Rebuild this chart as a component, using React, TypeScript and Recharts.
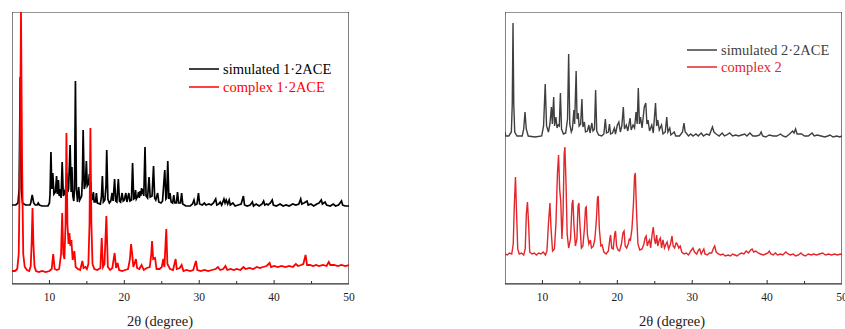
import React from 'react';
import { LineChart, Line, XAxis, YAxis, ReferenceArea, Legend } from 'recharts';

// 2θ axis ticks (major every 10°, minor every 5°)
const X_TICKS = [5, 10, 15, 20, 25, 30, 35, 40, 45, 50];

const LEGEND_LEFT = ['simulated 1·2ACE', 'complex 1·2ACE'];
const LEGEND_RIGHT = ['simulated 2·2ACE', 'complex 2'];
const X_TITLE = '2θ (degree)';

// [2θ, intensity (offset, arbitrary units)]
const sim1: [number, number][] = [
  [5.0,79],[5.5,79],[5.8,81],[5.95,95],[6.1,207],[6.25,95],[6.4,81],[6.8,79],[7.4,79],[7.5,81],[7.7,89],[7.9,81],[8.1,79],[8.35,79],[8.5,81],[8.65,79],[9.0,78],[9.8,78],[10.0,81],[10.08,90],[10.2,132],[10.32,95],[10.45,111],[10.6,90],[10.8,92],[10.95,108],[11.05,90],[11.2,104],[11.3,88],[11.45,95],[11.55,86],[11.7,122],[11.85,88],[12.0,94],[12.1,89],[12.3,111],[12.45,92],[12.55,95],[12.76,139],[12.9,92],[13.0,117],[13.12,88],[13.25,83],[13.35,95],[13.47,203],[13.6,95],[13.75,82],[13.9,97],[14.05,84],[14.3,88],[14.4,105],[14.5,154],[14.65,95],[14.8,100],[14.93,123],[15.05,98],[15.2,100],[15.33,110],[15.42,100],[15.5,102],[15.6,88],[15.75,84],[15.87,92],[15.97,82],[16.15,82],[16.27,91],[16.4,81],[16.8,80],[16.95,88],[17.07,108],[17.2,82],[17.4,84],[17.55,98],[17.65,134],[17.8,85],[18.0,81],[18.2,83],[18.36,91],[18.5,83],[18.7,105],[18.85,83],[19.0,82],[19.2,105],[19.35,83],[19.5,82],[19.7,91],[19.85,83],[20.0,84],[20.2,91],[20.35,82],[20.6,91],[20.75,83],[20.95,84],[21.1,121],[21.25,85],[21.4,86],[21.5,94],[21.6,85],[21.8,88],[21.9,92],[22.0,86],[22.1,93],[22.2,88],[22.3,96],[22.4,90],[22.5,95],[22.6,88],[22.76,137],[22.9,88],[23.1,86],[23.3,107],[23.45,87],[23.7,88],[23.9,118],[24.05,86],[24.2,84],[24.45,91],[24.6,82],[24.9,81],[25.1,83],[25.4,114],[25.55,85],[25.65,86],[25.8,123],[25.95,85],[26.1,91],[26.25,82],[26.45,81],[26.6,89],[26.75,81],[26.95,81],[27.1,92],[27.25,81],[27.5,81],[27.65,91],[27.8,80],[28.2,78],[28.8,78],[29.1,80],[29.3,84],[29.45,79],[29.7,80],[29.9,91],[30.05,80],[30.4,79],[30.7,81],[30.9,79],[31.3,80],[31.6,79],[31.9,81],[32.2,85],[32.35,79],[32.6,80],[32.8,82],[33.0,79],[33.3,85],[33.45,81],[33.6,84],[33.8,80],[34.0,84],[34.15,79],[34.5,81],[34.8,78],[35.2,79],[35.6,80],[35.9,88],[36.05,79],[36.4,78],[36.8,79],[37.1,82],[37.25,78],[37.6,80],[38.0,78],[38.4,80],[38.6,83],[38.75,79],[39.0,80],[39.2,79],[39.5,81],[39.75,84],[39.9,79],[40.3,78],[40.8,80],[41.2,78],[41.6,79],[42.0,78],[42.5,80],[42.9,79],[43.3,80],[43.55,85],[43.7,80],[44.0,81],[44.4,83],[44.55,79],[44.9,80],[45.3,78],[45.7,80],[46.0,81],[46.3,84],[46.45,80],[46.8,82],[47.0,79],[47.5,78],[47.9,80],[48.2,78],[48.6,79],[49.0,83],[49.15,79],[49.5,78],[50,78]
];

const complex1: [number, number][] = [
  [5.0,13],[5.4,13],[5.7,15],[5.9,30],[6.05,120],[6.2,272],[6.35,120],[6.5,30],[6.7,17],[7.0,14],[7.3,13],[7.5,18],[7.62,40],[7.74,76],[7.86,40],[8.0,18],[8.2,13],[8.6,12],[9.0,13],[9.5,12],[10.0,13],[10.3,15],[10.5,30],[10.7,15],[11.0,14],[11.3,15],[11.55,30],[11.7,71],[11.85,30],[12.0,25],[12.15,60],[12.27,151],[12.4,60],[12.55,40],[12.67,51],[12.8,38],[12.93,44],[13.1,24],[13.33,33],[13.5,17],[13.8,15],[14.1,14],[14.4,23],[14.55,16],[14.8,17],[15.0,15],[15.2,20],[15.35,60],[15.47,156],[15.6,60],[15.75,20],[16.0,15],[16.4,14],[16.8,16],[16.98,46],[17.15,17],[17.35,20],[17.6,68],[17.8,17],[18.1,14],[18.4,16],[18.7,31],[18.9,16],[19.1,21],[19.3,14],[19.7,13],[20.1,14],[20.5,15],[20.75,25],[20.9,40],[21.05,30],[21.2,17],[21.55,25],[21.7,16],[22.0,15],[22.3,19],[22.6,14],[23.0,16],[23.4,17],[23.6,30],[23.7,43],[23.85,25],[24.1,26],[24.3,15],[24.7,15],[25.0,17],[25.2,25],[25.35,17],[25.6,55],[25.75,20],[26.1,15],[26.5,14],[26.85,25],[27.0,15],[27.4,16],[27.65,19],[27.9,13],[28.3,14],[28.8,13],[29.2,14],[29.56,23],[29.75,14],[30.2,13],[30.7,14],[31.2,13],[31.7,14],[32.2,15],[32.5,17],[32.8,14],[33.2,15],[33.5,18],[33.75,14],[34.2,15],[34.6,14],[35.0,15],[35.5,14],[35.9,17],[36.2,15],[36.7,16],[37.2,15],[37.7,17],[38.1,16],[38.5,17],[39.0,18],[39.4,21],[39.6,17],[40.0,18],[40.5,17],[41.0,18],[41.5,17],[42.0,18],[42.5,17],[42.9,20],[43.2,18],[43.6,19],[43.9,20],[44.2,29],[44.4,19],[44.8,19],[45.2,18],[45.6,19],[46.0,18],[46.5,19],[47.0,18],[47.3,22],[47.5,19],[48.0,19],[48.5,18],[49.0,19],[49.5,18],[50,19]
];

const sim2: [number, number][] = [
  [5.0,152],[5.1,148],[5.5,148],[5.85,152],[5.97,180],[6.07,261],[6.17,180],[6.3,152],[6.6,148],[7.3,148],[7.5,155],[7.67,172],[7.84,155],[8.1,148],[9.0,147],[9.9,148],[10.15,158],[10.37,200],[10.55,158],[10.8,152],[11.0,160],[11.2,177],[11.32,160],[11.5,187],[11.62,158],[11.8,167],[11.95,156],[12.1,159],[12.25,158],[12.4,191],[12.55,155],[12.8,150],[13.1,151],[13.35,165],[13.5,230],[13.65,160],[13.85,152],[14.0,155],[14.2,174],[14.3,160],[14.5,213],[14.62,165],[14.77,171],[14.9,158],[15.1,160],[15.27,185],[15.4,157],[15.6,162],[15.75,152],[16.0,153],[16.2,159],[16.35,151],[16.6,161],[16.75,153],[16.95,155],[17.1,194],[17.25,153],[17.5,149],[17.9,148],[18.2,150],[18.4,165],[18.55,151],[18.8,152],[18.95,160],[19.1,150],[19.35,151],[19.6,156],[19.75,150],[20.0,159],[20.2,162],[20.4,152],[20.6,158],[20.8,177],[20.95,155],[21.2,159],[21.4,153],[21.7,166],[21.85,154],[22.1,159],[22.3,156],[22.5,172],[22.65,160],[22.8,196],[22.95,160],[23.1,167],[23.3,156],[23.6,177],[23.8,181],[23.95,160],[24.1,164],[24.3,153],[24.6,159],[24.8,151],[25.1,181],[25.25,158],[25.4,164],[25.6,154],[25.9,159],[26.1,150],[26.4,152],[26.6,167],[26.75,152],[27.0,156],[27.15,149],[27.6,152],[27.8,148],[28.3,148],[28.7,152],[28.9,161],[29.05,152],[29.2,151],[29.5,148],[29.8,150],[30.1,148],[30.5,150],[30.8,148],[31.2,151],[31.5,148],[31.9,150],[32.3,149],[32.7,157],[32.9,152],[33.2,150],[33.6,148],[34.0,151],[34.3,148],[34.6,149],[35.0,151],[35.4,148],[35.8,149],[36.2,148],[36.6,149],[37.0,150],[37.3,148],[37.7,151],[38.1,148],[38.6,148],[39.0,149],[39.2,152],[39.4,148],[39.8,147],[40.3,149],[40.8,148],[41.3,148],[41.8,150],[42.1,148],[42.5,147],[43.0,150],[43.4,153],[43.6,151],[43.8,155],[44.0,150],[44.6,150],[45.0,148],[45.5,148],[46.0,151],[46.3,148],[46.7,149],[47.2,148],[47.7,147],[48.1,148],[48.4,149],[48.8,147],[49.3,148],[49.7,147],[50,148]
];

const complex2: [number, number][] = [
  [5.0,30],[5.3,29],[5.6,31],[5.9,30],[6.1,40],[6.25,80],[6.4,107],[6.55,70],[6.7,35],[6.9,30],[7.2,31],[7.5,29],[7.7,35],[7.85,70],[8.0,82],[8.15,60],[8.3,32],[8.6,30],[8.9,31],[9.2,29],[9.5,31],[9.8,30],[10.1,32],[10.4,29],[10.6,33],[10.8,60],[11.0,81],[11.15,55],[11.35,33],[11.6,35],[11.8,60],[12.0,110],[12.15,129],[12.3,95],[12.45,82],[12.6,45],[12.75,70],[12.9,130],[13.0,137],[13.15,100],[13.3,50],[13.5,36],[13.75,45],[13.95,80],[14.07,84],[14.2,60],[14.4,38],[14.6,45],[14.75,78],[14.87,81],[15.0,60],[15.2,36],[15.4,38],[15.6,55],[15.75,76],[15.85,77],[16.0,50],[16.2,40],[16.4,44],[16.55,36],[16.8,38],[17.0,45],[17.2,64],[17.35,86],[17.45,88],[17.6,55],[17.8,38],[17.97,39],[18.2,32],[18.5,30],[18.8,33],[19.0,45],[19.1,49],[19.25,36],[19.45,35],[19.65,50],[19.76,53],[19.9,38],[20.1,34],[20.3,33],[20.55,40],[20.75,51],[20.9,53],[21.05,38],[21.25,36],[21.45,40],[21.6,45],[21.75,44],[21.95,55],[22.15,80],[22.3,108],[22.4,111],[22.55,75],[22.75,40],[23.0,34],[23.3,35],[23.55,40],[23.7,46],[23.85,48],[24.0,38],[24.15,42],[24.3,44],[24.45,36],[24.65,50],[24.8,57],[24.95,45],[25.1,40],[25.25,49],[25.4,38],[25.6,44],[25.75,46],[25.9,36],[26.1,44],[26.3,36],[26.5,40],[26.65,42],[26.85,35],[27.1,40],[27.3,48],[27.45,38],[27.65,36],[27.85,41],[28.0,40],[28.2,36],[28.4,38],[28.6,32],[28.9,30],[29.2,31],[29.5,29],[29.8,33],[30.1,36],[30.3,32],[30.6,30],[30.85,34],[31.0,35],[31.2,30],[31.4,33],[31.55,35],[31.7,30],[32.0,29],[32.3,31],[32.6,31],[32.85,36],[33.0,38],[33.2,32],[33.5,30],[33.8,29],[34.1,30],[34.4,28],[34.8,29],[35.1,28],[35.4,30],[35.7,29],[36.0,28],[36.3,30],[36.6,31],[36.9,30],[37.2,33],[37.5,31],[37.8,34],[38.0,35],[38.2,32],[38.5,33],[38.8,31],[39.1,30],[39.5,29],[39.8,30],[40.1,31],[40.3,33],[40.5,30],[40.8,29],[41.1,31],[41.4,29],[41.8,30],[42.1,29],[42.5,32],[42.8,30],[43.1,29],[43.5,30],[43.8,28],[44.2,29],[44.5,31],[44.8,29],[45.1,28],[45.5,30],[45.9,29],[46.2,30],[46.6,29],[47.0,30],[47.4,31],[47.8,29],[48.2,30],[48.6,29],[49.0,30],[49.4,29],[49.8,30],[50,29]
];

const toRows = (pts: [number, number][]) => pts.map(([x, y]) => ({ x, y }));

const FONT = '"Liberation Serif", "Times New Roman", serif';
const FRAME = '#2e2e2e';

const AxisTick = (props: any) => {
  const { x, y, payload } = props;
  const v = payload.value;
  const major = v % 10 === 0;
  return (
    <g>
      {v > 5 && v < 50 && (
        <line x1={x} x2={x} y1={y} y2={y - (major ? 4 : 3)} stroke={FRAME} strokeWidth={1} />
      )}
      {major && (
        <text x={x} y={y + 17} textAnchor="middle" fontSize={11.5} fontFamily={FONT} fill="#222">
          {v}
        </text>
      )}
    </g>
  );
};

// overlay holding legend + axis title (positions are in chart pixels)
const makeOverlay = (
  names: string[],
  colors: string[],
  lx: number,
  ly: number,
  gap: number,
  tx: number
) => () => (
  <svg width={420} height={329} style={{ position: 'absolute', left: 0, top: 0, overflow: 'visible', pointerEvents: 'none' }}>
    {names.map((n, i) => (
      <g key={i}>
        <line x1={lx} x2={lx + 30} y1={ly + i * gap} y2={ly + i * gap} stroke={colors[i]} strokeWidth={1.5} />
        <text x={lx + 34} y={ly + i * gap + 5} fontSize={14.5} fontFamily={FONT} fill={colors[i]}>
          {n}
        </text>
      </g>
    ))}
    <text x={tx} y={326} textAnchor="middle" fontSize={14.5} fontFamily={FONT} fill="#222">
      {X_TITLE}
    </text>
  </svg>
);

interface PanelProps {
  left: number;
  width: number;
  margin: { top: number; right: number; bottom: number; left: number };
  a: [number, number][];
  b: [number, number][];
  names: string[];
  colors: string[];
  widths: number[];
  legendPos: [number, number, number];
  titleX: number;
}

const Panel = (p: PanelProps) => (
  <div style={{ position: 'absolute', left: p.left, top: 0 }}>
    <LineChart width={p.width} height={329} margin={p.margin}>
      <XAxis
        dataKey="x"
        type="number"
        domain={[5, 50]}
        ticks={X_TICKS}
        allowDataOverflow
        height={28}
        tickSize={0}
        tickMargin={0}
        tickLine={false}
        axisLine={{ stroke: FRAME }}
        tick={<AxisTick />}
        interval={0}
      />
      <YAxis type="number" domain={[0, 272]} allowDataOverflow hide />
      <ReferenceArea x1={5} x2={50} y1={0} y2={272} fill="none" stroke={FRAME} strokeWidth={1.2} ifOverflow="hidden" />
      <Line data={toRows(p.a)} dataKey="y" name={p.names[0]} stroke={p.colors[0]} strokeWidth={p.widths[0]} dot={false} isAnimationActive={false} />
      <Line data={toRows(p.b)} dataKey="y" name={p.names[1]} stroke={p.colors[1]} strokeWidth={p.widths[1]} dot={false} isAnimationActive={false} />
      <Legend
        wrapperStyle={{ left: 0, top: 0, width: 0, height: 0 }}
        content={makeOverlay(p.names, p.colors, p.legendPos[0], p.legendPos[1], p.legendPos[2], p.titleX)}
      />
    </LineChart>
  </div>
);

export default function App() {
  return (
    <div style={{ position: 'absolute', left: 0, top: 0, width: 845, height: 329, background: '#fff', overflow: 'hidden' }}>
      <Panel
        left={0}
        width={425}
        margin={{ top: 12, right: 76, bottom: 17, left: 12 }}
        a={sim1}
        b={complex1}
        names={LEGEND_LEFT}
        colors={['#000000', '#ff0000']}
        widths={[1.7, 1.8]}
        legendPos={[189, 69, 18]}
        titleX={160}
      />
      <Panel
        left={425}
        width={420}
        margin={{ top: 12, right: 3, bottom: 17, left: 80 }}
        a={sim2}
        b={complex2}
        names={LEGEND_RIGHT}
        colors={['#3f3f3f', '#e3262b']}
        widths={[1.4, 1.4]}
        legendPos={[262, 50, 17]}
        titleX={247}
      />
    </div>
  );
}
